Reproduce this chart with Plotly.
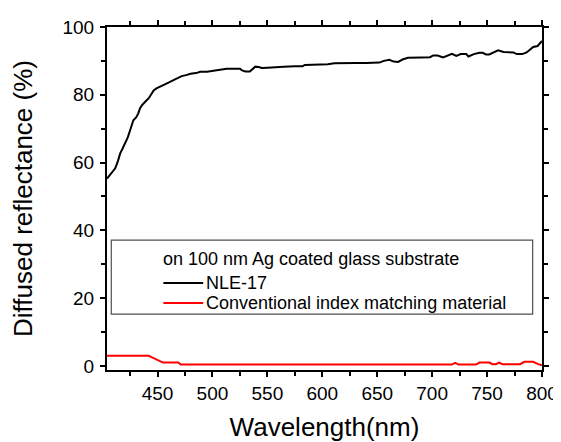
import plotly.graph_objects as go

# ---- data ----
nle_wl = [404, 406, 409, 411.5, 414, 416, 418, 420.5, 423, 426, 428, 430.5, 432.5, 434, 436, 439,
          442, 444, 446.5, 449, 452, 455.5, 460, 464.5, 468, 472, 476, 480, 485, 489, 495, 500,
          504, 510, 513, 520, 525, 527, 530, 534, 536, 539, 542, 545, 550, 558, 565, 575, 582,
          584, 595, 605, 611, 620, 630, 640, 652, 656, 661, 665, 669, 673, 678, 690, 698, 701,
          705, 710, 714, 718, 722, 726, 731, 733, 738, 743, 746, 749, 752, 756, 760, 765, 770,
          774, 777, 782, 786, 789, 792, 796, 800]
nle_val = [55.3, 56.2, 57.3, 58.3, 60.5, 62.7, 64.0, 65.6, 67.5, 70.5, 72.5, 73.3, 74.5, 76.0, 77.0, 78.0,
           79.0, 80.0, 81.3, 81.9, 82.3, 82.8, 83.6, 84.3, 84.9, 85.5, 85.8, 86.2, 86.4, 86.8, 86.8, 87.0,
           87.2, 87.4, 87.7, 87.7, 87.7, 87.2, 86.9, 86.9, 87.5, 88.3, 88.2, 87.9, 88.0, 88.2, 88.3, 88.4, 88.4,
           88.8, 88.9, 89.0, 89.3, 89.4, 89.4, 89.4, 89.5, 90.0, 90.3, 89.8, 89.7, 90.4, 90.9, 91.0, 91.1, 91.6,
           91.6, 91.0, 91.5, 92.1, 91.5, 92.0, 92.0, 91.3, 92.0, 92.4, 92.4, 91.9, 91.9, 92.6, 93.1, 92.6, 92.6,
           92.5, 92.0, 92.0, 92.5, 93.3, 94.1, 94.4, 95.9]

conv_wl = [404, 442, 446, 450, 455, 469, 471, 500, 600, 700, 718, 721, 724, 740, 743, 752, 755,
           758, 761, 764, 780, 784, 792, 796, 800]
conv_val = [3.0, 3.0, 2.4, 1.8, 1.0, 1.0, 0.4, 0.4, 0.4, 0.4, 0.4, 0.9, 0.4, 0.4, 1.0, 1.0, 0.5,
            0.5, 1.0, 0.5, 0.5, 1.2, 1.2, 0.6, 0.2]

series_names = ["NLE-17", "Conventional index matching material"]
legend_title = "on 100 nm Ag coated glass substrate"
x_ticks = [450, 500, 550, 600, 650, 700, 750, 800]
y_ticks = [0, 20, 40, 60, 80, 100]

FONT = "Arial, Liberation Sans, sans-serif"

fig = go.Figure()
fig.add_trace(go.Scatter(x=nle_wl, y=nle_val, mode="lines", name=series_names[0],
                         line=dict(color="black", width=2), showlegend=False))
fig.add_trace(go.Scatter(x=conv_wl, y=conv_val, mode="lines", name=series_names[1],
                         line=dict(color="#ff0000", width=2), showlegend=False))

# ---- legend built inside the plot (box + samples + text) ----
fig.add_shape(type="rect", xref="x", yref="y", x0=407.9, x1=791.5, y0=15.3, y1=37.1,
              line=dict(color="#505050", width=1.2), fillcolor="rgba(0,0,0,0)")
fig.add_annotation(x=455.3, y=31.5, xref="x", yref="y", text=legend_title, showarrow=False,
                   xanchor="left", yanchor="middle", xshift=-2,
                   font=dict(family=FONT, size=18, color="black"))
for name, color, yy in [(series_names[0], "black", 24.5), (series_names[1], "#ff0000", 18.6)]:
    fig.add_shape(type="line", xref="x", yref="y", x0=455.3, x1=491.6, y0=yy, y1=yy,
                  line=dict(color=color, width=2))
    fig.add_annotation(x=492.5, y=yy, xref="x", yref="y", text=name, showarrow=False,
                       xanchor="left", yanchor="middle",
                       font=dict(family=FONT, size=18, color="black"))

axis_common = dict(showline=True, linecolor="black", linewidth=2, mirror="ticks",
                   ticks="outside", ticklen=5, tickwidth=1.5, tickcolor="black",
                   showgrid=False, zeroline=False,
                   tickfont=dict(family=FONT, size=19, color="black"))

fig.update_xaxes(range=[404, 800], tickvals=x_ticks, ticktext=[str(v) for v in x_ticks],
                 minor=dict(dtick=25, tick0=400, ticks="outside", ticklen=4, tickcolor="black", tickwidth=1.5),
                 title=dict(text="Wavelength(nm)", font=dict(family=FONT, size=26, color="black"), standoff=15),
                 **axis_common)
fig.update_yaxes(range=[-1.2, 100], tickvals=y_ticks, ticktext=[str(v) for v in y_ticks],
                 minor=dict(dtick=10, tick0=0, ticks="outside", ticklen=4, tickcolor="black", tickwidth=1.5),
                 title=dict(text="Diffused reflectance (%)", font=dict(family=FONT, size=26, color="black"), standoff=28),
                 ticklabelstandoff=2,
                 **axis_common)

# the page body adds an 8px offset; margins are set so the plot area lands where the reference has it
fig.update_layout(width=553, height=442, margin=dict(l=99, r=19, t=19, b=80, autoexpand=False),
                  paper_bgcolor="white", plot_bgcolor="white", showlegend=False)

fig.write_html("out.html")
